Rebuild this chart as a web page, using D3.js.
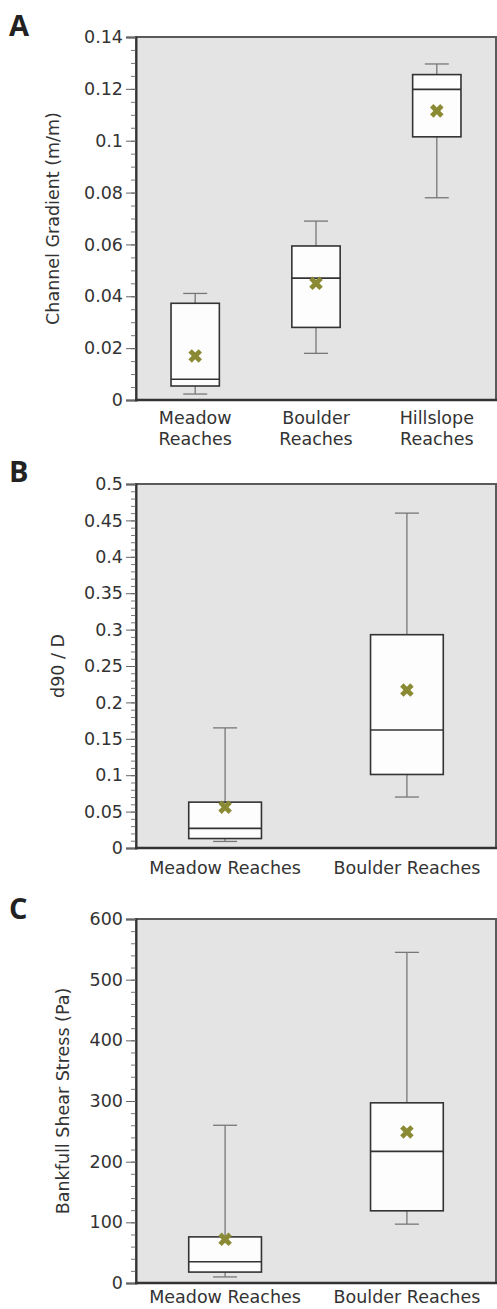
<!DOCTYPE html>
<html>
<head>
<meta charset="utf-8">
<script src="https://cdn.jsdelivr.net/npm/d3@7"></script>
<style>
  body { margin: 0; background: #fff; }
  svg { display: block; font-family: "DejaVu Sans", sans-serif; }
</style>
</head>
<body>
<svg id="chart"></svg>
<script>
// Panel A: channel gradient
const gradientCategories = ["Meadow Reaches", "Boulder Reaches", "Hillslope Reaches"];
const gradientMin = [0.0023, 0.018, 0.078];
const gradientQ1 = [0.0054, 0.028, 0.1015];
const gradientMedian = [0.008, 0.047, 0.1198];
const gradientQ3 = [0.0373, 0.0594, 0.1255];
const gradientMax = [0.0411, 0.069, 0.1296];
const gradientMean = [0.017, 0.045, 0.1115];
const gradientTicks = [0, 0.02, 0.04, 0.06, 0.08, 0.1, 0.12, 0.14];

// Panel B: d90 / D
const d90Categories = ["Meadow Reaches", "Boulder Reaches"];
const d90Min = [0.009, 0.070];
const d90Q1 = [0.013, 0.101];
const d90Median = [0.027, 0.162];
const d90Q3 = [0.063, 0.293];
const d90Max = [0.165, 0.46];
const d90Mean = [0.056, 0.217];
const d90Ticks = [0, 0.05, 0.1, 0.15, 0.2, 0.25, 0.3, 0.35, 0.4, 0.45, 0.5];

// Panel C: bankfull shear stress
const shearCategories = ["Meadow Reaches", "Boulder Reaches"];
const shearMin = [10, 97];
const shearQ1 = [18, 119];
const shearMedian = [35, 217];
const shearQ3 = [76, 297];
const shearMax = [260, 545];
const shearMean = [72, 249];
const shearTicks = [0, 100, 200, 300, 400, 500, 600];

const width = 497, height = 1309;
const svg = d3.select("#chart").attr("width", width).attr("height", height);

const plotLeft = 136, plotRight = 496;

function drawPanel(p) {
    const g = svg.append("g");

    const x = d3.scalePoint()
        .domain(p.categories)
        .range([plotLeft, plotRight])
        .padding(0.49);
    const y = d3.scaleLinear()
        .domain([0, p.ticks[p.ticks.length - 1]])
        .range([p.bottom, p.top]);

    const step = x.step();
    const boxW = step * 0.4;
    const capW = 24;

    const stats = p.categories.map((c, i) => ({
        cat: c, min: p.min[i], q1: p.q1[i], median: p.median[i],
        q3: p.q3[i], max: p.max[i], mean: p.mean[i]
    }));

    // plot background
    g.append("rect")
        .attr("x", plotLeft).attr("y", p.top)
        .attr("width", plotRight - plotLeft).attr("height", p.bottom - p.top)
        .attr("fill", "#e4e4e4")
        .attr("stroke", "#5a5a5a")
        .attr("stroke-width", 2);

    const box = g.selectAll("g.box").data(stats).join("g").attr("class", "box");

    // whiskers
    box.append("line")
        .attr("x1", d => x(d.cat)).attr("x2", d => x(d.cat))
        .attr("y1", d => y(d.max)).attr("y2", d => y(d.q3))
        .attr("stroke", "#777").attr("stroke-width", 1.3);
    box.append("line")
        .attr("x1", d => x(d.cat)).attr("x2", d => x(d.cat))
        .attr("y1", d => y(d.q1)).attr("y2", d => y(d.min))
        .attr("stroke", "#777").attr("stroke-width", 1.3);
    box.append("line")
        .attr("x1", d => x(d.cat) - capW / 2).attr("x2", d => x(d.cat) + capW / 2)
        .attr("y1", d => y(d.max)).attr("y2", d => y(d.max))
        .attr("stroke", "#777").attr("stroke-width", 1.3);
    box.append("line")
        .attr("x1", d => x(d.cat) - capW / 2).attr("x2", d => x(d.cat) + capW / 2)
        .attr("y1", d => y(d.min)).attr("y2", d => y(d.min))
        .attr("stroke", "#777").attr("stroke-width", 1.3);

    // box
    box.append("rect")
        .attr("x", d => x(d.cat) - boxW / 2)
        .attr("y", d => y(d.q3))
        .attr("width", boxW)
        .attr("height", d => y(d.q1) - y(d.q3))
        .attr("fill", "#fdfdfd")
        .attr("stroke", "#333")
        .attr("stroke-width", 1.6);
    box.append("line")
        .attr("x1", d => x(d.cat) - boxW / 2).attr("x2", d => x(d.cat) + boxW / 2)
        .attr("y1", d => y(d.median)).attr("y2", d => y(d.median))
        .attr("stroke", "#333").attr("stroke-width", 1.6);

    // mean marker
    box.append("path")
        .attr("d", d3.symbol(d3.symbolCross, 115))
        .attr("transform", d => `translate(${x(d.cat)},${y(d.mean)}) rotate(45)`)
        .attr("fill", "#8b8a34");

    // minor ticks
    const yMax = p.ticks[p.ticks.length - 1];
    const minor = d3.range(0, yMax + p.minorStep / 2, p.minorStep);
    g.append("g")
        .attr("transform", `translate(${plotLeft},0)`)
        .call(d3.axisLeft(y).tickValues(minor).tickSize(5).tickFormat(""))
        .call(a => a.select(".domain").remove())
        .call(a => a.selectAll("line").attr("stroke", "#777"));

    // major ticks
    g.append("g")
        .attr("transform", `translate(${plotLeft},0)`)
        .call(d3.axisLeft(y).tickValues(p.ticks).tickSize(10).tickPadding(3)
            .tickFormat(d => String(+d.toFixed(4))))
        .call(a => a.select(".domain").attr("stroke", "#333").attr("stroke-width", 2))
        .call(a => a.selectAll("line").attr("stroke", "#666"))
        .call(a => a.selectAll("text")
            .attr("font-family", "DejaVu Sans")
            .attr("font-size", 17.5)
            .attr("fill", "#333"));

    // bottom axis line
    g.append("line")
        .attr("x1", plotLeft - 1).attr("x2", width)
        .attr("y1", p.bottom).attr("y2", p.bottom)
        .attr("stroke", "#333").attr("stroke-width", 2.6);

    // category labels
    const lab = g.selectAll("text.cat").data(p.categories).join("text")
        .attr("class", "cat")
        .attr("text-anchor", "middle")
        .attr("font-size", 17.5)
        .attr("fill", "#333");
    if (p.twoLine) {
        lab.selectAll("tspan").data(d => d.split(" ").map(w => ({ w, c: d })))
            .join("tspan")
            .attr("x", d => x(d.c))
            .attr("y", (d, i) => p.bottom + 24 + i * 21)
            .text(d => d.w);
    } else {
        lab.attr("x", d => x(d)).attr("y", p.bottom + p.labelGap).text(d => d);
    }

    // y axis title
    g.append("text")
        .attr("transform", `translate(${p.titleX},${(p.top + p.bottom) / 2}) rotate(-90)`)
        .attr("text-anchor", "middle")
        .attr("font-size", 17.5)
        .attr("fill", "#333")
        .text(p.title);

    // panel letter
    g.append("text")
        .attr("x", 9).attr("y", p.letterY)
        .attr("font-family", "Open Sans")
        .attr("font-weight", "bold")
        .attr("font-size", 29)
        .attr("fill", "#222")
        .text(p.letter);
}

drawPanel({
    letter: "A", letterY: 36, top: 37, bottom: 400, titleX: 59,
    title: "Channel Gradient (m/m)", twoLine: true, minorStep: 0.005,
    categories: gradientCategories, min: gradientMin, q1: gradientQ1, median: gradientMedian,
    q3: gradientQ3, max: gradientMax, mean: gradientMean, ticks: gradientTicks
});

drawPanel({
    letter: "B", letterY: 482, top: 484, bottom: 848, titleX: 64, labelGap: 26,
    title: "d90 / D", twoLine: false, minorStep: 0.01,
    categories: d90Categories, min: d90Min, q1: d90Q1, median: d90Median,
    q3: d90Q3, max: d90Max, mean: d90Mean, ticks: d90Ticks
});

drawPanel({
    letter: "C", letterY: 919, top: 919, bottom: 1283, titleX: 69, labelGap: 20,
    title: "Bankfull Shear Stress (Pa)", twoLine: false, minorStep: 20,
    categories: shearCategories, min: shearMin, q1: shearQ1, median: shearMedian,
    q3: shearQ3, max: shearMax, mean: shearMean, ticks: shearTicks
});
</script>
</body>
</html>
